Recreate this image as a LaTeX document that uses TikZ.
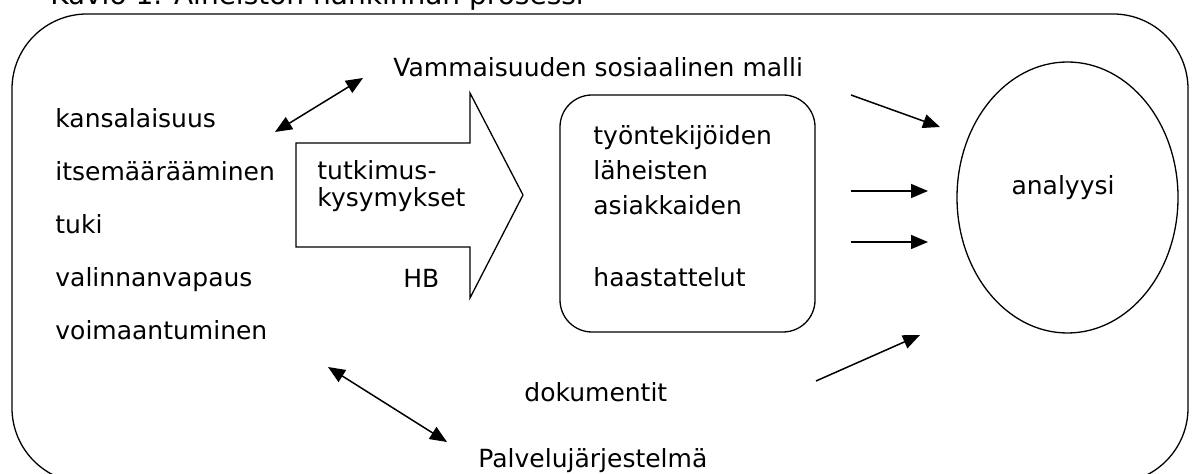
\documentclass[tikz,border=0pt]{standalone}
\usepackage{fontspec}
\setmainfont{DejaVu Sans}
\usetikzlibrary{arrows.meta,shapes.geometric}
\tikzset{
  txt/.style={inner sep=0pt, anchor=base west, font=\fontsize{12.5}{15}\selectfont},
  viiva/.style={line width=0.65pt},
  nuoli/.style={line width=0.75pt, -{Triangle[length=8.5pt,width=7pt]}},
  nuoli2/.style={line width=0.75pt, {Triangle[length=8.5pt,width=7pt]}-{Triangle[length=8.5pt,width=7pt]}}
}
\begin{document}
\begin{tikzpicture}[x=0.5pt,y=-0.5pt]
\useasboundingbox (0,0) rectangle (1192,474);
% otsikko ja kehys
\node[txt, font=\fontsize{14}{16}\selectfont] (otsikko) at (50,5) {Kuvio 1. Aineiston hankinnan prosessi};
\draw[viiva, rounded corners=37.5pt] (12,14) rectangle (1188,483);
% vasen lista
\foreach \t/\y/\n in {kansalaisuus/128/k1, itsemäärääminen/181/k2, tuki/234/k3, valinnanvapaus/287/k4, voimaantuminen/340/k5}
  \node[txt] (\n) at (55,\y) {\t};
\node[txt] (vamm) at (393,77) {Vammaisuuden sosiaalinen malli};
\node[txt] (dok) at (524,402) {dokumentit};
\node[txt] (palv) at (478,468) {Palvelujärjestelmä};
% iso nuoli
\draw[viiva] (296,143) -- (470,143) -- (470,93) -- (523,195) -- (470,298) -- (470,247) -- (296,247) -- cycle;
\node[txt] (tutk1) at (317,180) {tutkimus-};
\node[txt] (tutk2) at (317,207) {kysymykset};
\node[txt] (hb) at (403,288) {HB};
% haastattelut
\node[draw, viiva, rounded corners=16pt, minimum width=127.5pt, minimum height=118.5pt, inner sep=0pt] (haast) at (687.5,213.5) {};
\node[txt] (h1) at (593,145) {työntekijöiden};
\node[txt] (h2) at (593,180) {läheisten};
\node[txt] (h3) at (593,215) {asiakkaiden};
\node[txt] (h4) at (593,287) {haastattelut};
% analyysi
\node[draw, viiva, ellipse, minimum width=110.5pt, minimum height=135.5pt, inner sep=0pt] (ana) at (1067.5,197.5) {};
\node[txt, anchor=base] (anat) at (1063,195) {analyysi};
% nuolet
\coordinate (a1) at (275,132); \coordinate (a2) at (363,78);
\coordinate (b1) at (328,367); \coordinate (b2) at (447,442);
\coordinate (c1) at (851,95);  \coordinate (c2) at (940,127);
\coordinate (d1) at (851,191); \coordinate (d2) at (928,191);
\coordinate (e1) at (851,242); \coordinate (e2) at (928,242);
\coordinate (f1) at (816,381); \coordinate (f2) at (920,335);
\draw[nuoli2] (a1) -- (a2);
\draw[nuoli2] (b1) -- (b2);
\draw[nuoli] (c1) -- (c2);
\draw[nuoli] (d1) -- (d2);
\draw[nuoli] (e1) -- (e2);
\draw[nuoli] (f1) -- (f2);
\end{tikzpicture}
\end{document}
